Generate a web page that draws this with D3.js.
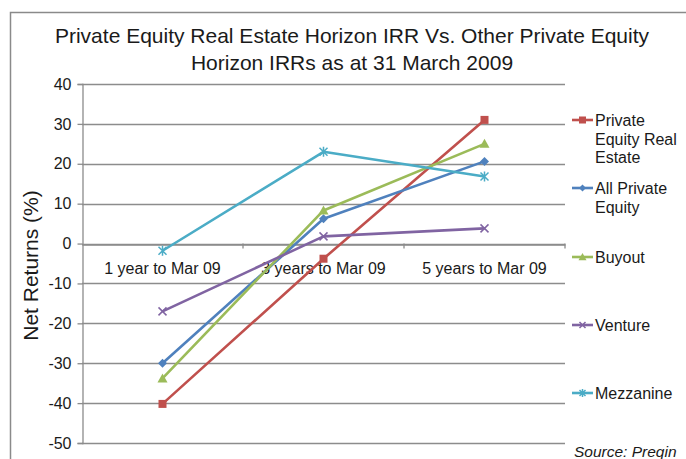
<!DOCTYPE html>
<html><head><meta charset="utf-8">
<script src="https://cdn.jsdelivr.net/npm/d3@7"></script>
<style>body{margin:0;background:#fff;} svg{display:block;font-family:"Liberation Sans",Arial,sans-serif;}</style>
</head><body>
<svg id="c" width="686" height="459"></svg>
<script>
const categories = ["1 year to Mar 09", "3 years to Mar 09", "5 years to Mar 09"];
const seriesNames = ["Private Equity Real Estate", "All Private Equity", "Buyout", "Venture", "Mezzanine"];
const pereValues = [-40.2, -3.8, 31.0];
const allPeValues = [-30.0, 6.2, 20.6];
const buyoutValues = [-33.8, 8.3, 25.0];
const ventureValues = [-17.0, 1.8, 3.8];
const mezzanineValues = [-1.8, 23.0, 16.8];
const yTicks = [40, 30, 20, 10, 0, -10, -20, -30, -40, -50];
const colors = ["#C0504D", "#4F81BD", "#9BBB59", "#8064A2", "#4BACC6"];
const markers = ["square", "diamond", "triangle", "x", "star"];
const legendLines = [["Private", "Equity Real", "Estate"], ["All Private", "Equity"], ["Buyout"], ["Venture"], ["Mezzanine"]];
const legendY = [120, 188, 257, 325, 393];

const series = [pereValues, allPeValues, buyoutValues, ventureValues, mezzanineValues].map((v, i) => ({
  name: seriesNames[i], values: v, color: colors[i], marker: markers[i]
}));

const FONT = "Liberation Sans, Arial, sans-serif";
const svg = d3.select("#c");
const L = 82, R = 565, T = 84, B = 443;

// outer border
svg.append("rect").attr("x", 10.5).attr("y", 12.5).attr("width", 700).attr("height", 470)
  .attr("fill", "none").attr("stroke", "#8a8a8a").attr("stroke-width", 1.5);

// title
svg.append("text").attr("x", 352).attr("y", 43).attr("text-anchor", "middle")
  .attr("font-size", 21).attr("fill", "#1a1a1a").text("Private Equity Real Estate Horizon IRR Vs. Other Private Equity");
svg.append("text").attr("x", 352).attr("y", 70).attr("text-anchor", "middle")
  .attr("font-size", 21).attr("fill", "#1a1a1a").text("Horizon IRRs as at 31 March 2009");

const y = d3.scaleLinear().domain([-50, 40]).range([B, T]);
const x = d3.scaleBand().domain(categories).range([L, R]).padding(0);
const cx = c => x(c) + x.bandwidth() / 2;

// gridlines
svg.append("g").selectAll("line").data(yTicks).join("line")
  .attr("x1", L).attr("x2", R).attr("y1", d => Math.round(y(d)) + 0.5).attr("y2", d => Math.round(y(d)) + 0.5)
  .attr("stroke", "#8c8c8c").attr("stroke-width", 1.3);

// y axis
const yAxis = svg.append("g").attr("transform", `translate(${L + 0.5},0)`)
  .call(d3.axisLeft(y).tickValues(yTicks).tickSize(5).tickPadding(6).tickFormat(d => String(d)));
yAxis.attr("font-family", FONT);
yAxis.select(".domain").attr("stroke", "#8c8c8c").attr("stroke-width", 1.3);
yAxis.selectAll(".tick line").attr("stroke", "#8c8c8c").attr("stroke-width", 1.3);
yAxis.selectAll(".tick text").attr("font-size", 16).attr("fill", "#1a1a1a");

// x axis at zero
const xAxis = svg.append("g").attr("transform", `translate(0,${Math.round(y(0)) + 0.5})`)
  .call(d3.axisBottom(x).tickSize(0).tickPadding(17));
xAxis.attr("font-family", FONT);
xAxis.select(".domain").attr("stroke", "#8c8c8c").attr("stroke-width", 1.3);
xAxis.selectAll(".tick text").attr("font-size", 16).attr("fill", "#1a1a1a").attr("dy", "0.71em").attr("y", 18);
// x tick marks at band boundaries
svg.append("g").selectAll("line").data(categories).join("line")
  .attr("x1", d => x(d) + x.bandwidth()).attr("x2", d => x(d) + x.bandwidth())
  .attr("y1", y(0)).attr("y2", y(0) + 5).attr("stroke", "#8c8c8c").attr("stroke-width", 1.3);

// y axis title
svg.append("text").attr("transform", `translate(38,${(T + B) / 2 + 2}) rotate(-90)`)
  .attr("text-anchor", "middle").attr("font-size", 21).attr("fill", "#1a1a1a").text("Net Returns (%)");

function drawMarker(g, type, color, px, py, s) {
  if (type === "square") {
    g.append("rect").attr("x", px - s).attr("y", py - s).attr("width", 2 * s).attr("height", 2 * s).attr("fill", color);
  } else if (type === "diamond") {
    g.append("path").attr("d", `M${px},${py - s}L${px + s},${py}L${px},${py + s}L${px - s},${py}Z`).attr("fill", color);
  } else if (type === "triangle") {
    g.append("path").attr("d", `M${px},${py - s}L${px + s},${py + s * 0.8}L${px - s},${py + s * 0.8}Z`).attr("fill", color);
  } else if (type === "x") {
    g.append("path").attr("d", `M${px - s},${py - s}L${px + s},${py + s}M${px - s},${py + s}L${px + s},${py - s}`)
      .attr("stroke", color).attr("stroke-width", 1.5);
  } else if (type === "star") {
    g.append("path").attr("d", `M${px - s},${py - s}L${px + s},${py + s}M${px - s},${py + s}L${px + s},${py - s}M${px},${py - s - 1}L${px},${py + s + 1}`)
      .attr("stroke", color).attr("stroke-width", 1.5);
  }
}

const line = d3.line().x((d, i) => cx(categories[i])).y(d => y(d));
const gl = svg.append("g");
series.forEach(s => {
  gl.append("path").datum(s.values).attr("d", line).attr("fill", "none")
    .attr("stroke", s.color).attr("stroke-width", 2.6).attr("stroke-linejoin", "round");
});
series.forEach(s => {
  const sizes = {square: 4, diamond: 4.5, triangle: 5, x: 4, star: 4};
  s.values.forEach((v, i) => drawMarker(gl, s.marker, s.color, cx(categories[i]), y(v), sizes[s.marker]));
});

// legend
const lg = svg.append("g");
series.forEach((s, i) => {
  const ly = legendY[i];
  lg.append("line").attr("x1", 572).attr("x2", 593).attr("y1", ly).attr("y2", ly)
    .attr("stroke", s.color).attr("stroke-width", 2.6);
  const sizes = {square: 3.5, diamond: 3.5, triangle: 4, x: 3, star: 3};
  drawMarker(lg, s.marker, s.color, 582.5, ly, sizes[s.marker]);
  legendLines[i].forEach((t, k) => {
    lg.append("text").attr("x", 595).attr("y", ly + 6 + k * 18.5).attr("font-size", 16).attr("fill", "#1a1a1a").text(t);
  });
});

// source
svg.append("text").attr("x", 574).attr("y", 457).attr("font-size", 15.5).attr("font-style", "italic")
  .attr("fill", "#1a1a1a").text("Source: Preqin");
</script>
</body></html>
